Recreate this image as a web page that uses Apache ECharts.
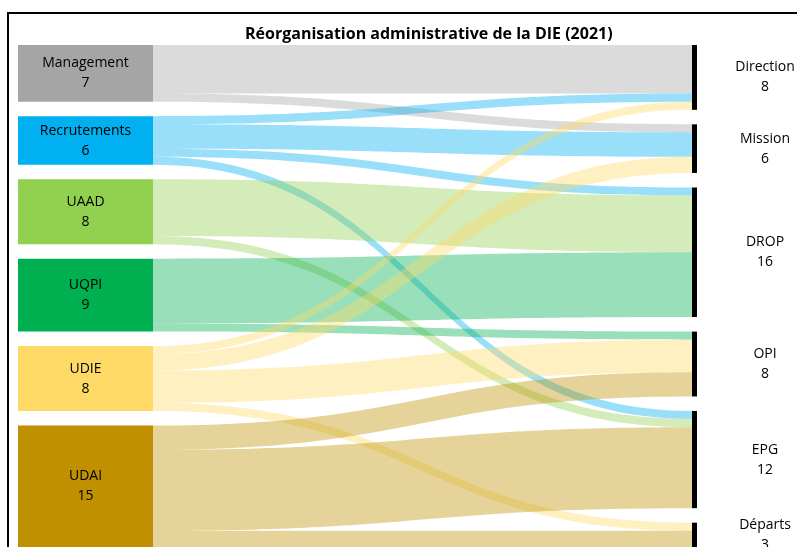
<!DOCTYPE html>
<html>
<head>
<meta charset="utf-8">
<script src="https://cdn.jsdelivr.net/npm/echarts@6/dist/echarts.min.js"></script>
<style>
  html, body { margin: 0; padding: 0; background: #fff; }
  #chart { width: 797px; height: 547px; }
</style>
</head>
<body>
<div id="chart"></div>
<script>
// noeuds de départ (2020) et d'arrivée (2021)
const sources = ['Management', 'Recrutements', 'UAAD', 'UQPI', 'UDIE', 'UDAI'];
const sourceColors = ['#A5A5A5', '#00B0F0', '#92D050', '#00B050', '#FFD966', '#BF9000'];
const targets = ['Direction', 'Mission', 'DROP', 'OPI', 'EPG', 'Départs'];

// flux : de -> vers, effectif
const flowFrom = ['Management', 'Management', 'Recrutements', 'Recrutements', 'Recrutements', 'Recrutements',
    'UAAD', 'UAAD', 'UQPI', 'UQPI', 'UDIE', 'UDIE', 'UDIE', 'UDIE', 'UDAI', 'UDAI', 'UDAI'];
const flowTo = ['Direction', 'Mission', 'Direction', 'Mission', 'DROP', 'EPG',
    'DROP', 'EPG', 'DROP', 'OPI', 'Direction', 'Mission', 'OPI', 'Départs', 'OPI', 'EPG', 'Départs'];
const flowValue = [6, 1, 1, 3, 1, 1, 7, 1, 8, 1, 1, 2, 4, 1, 3, 10, 2];

const font = 'Open Sans';
const myChart = echarts.init(document.getElementById('chart'));

const links = flowFrom.map((s, i) => ({ source: s, target: flowTo[i], value: flowValue[i] }));

// serie "flux" : noeuds fins, liens colorés
const nodesThin = sources.map((name, i) => ({
    name: name,
    itemStyle: { color: sourceColors[i], opacity: 0 },
    label: { show: false }
})).concat(targets.map(name => ({
    name: name,
    itemStyle: { color: '#000' },
    label: {
        show: true,
        position: [73, '50%'],
        align: 'center',
        verticalAlign: 'middle',
        padding: [3, 0, 0, 0]
    }
})));

// serie "boites" : seulement les grands rectangles de gauche
const nodesBox = sources.map((name, i) => ({
    name: name,
    itemStyle: { color: sourceColors[i] },
    label: { show: true, position: 'inside' }
})).concat(targets.map(name => ({
    name: name,
    itemStyle: { opacity: 0 },
    label: { show: false }
})));

const common = {
    type: 'sankey',
    top: 45,
    height: 502,
    nodeGap: 14.5,
    layoutIterations: 0,
    draggable: false,
    emphasis: { disabled: true },
    label: {
        color: '#000',
        fontFamily: font,
        fontSize: 14,
        lineHeight: 20,
        formatter: p => p.name + '\n' + p.value
    },
    itemStyle: { borderWidth: 0 }
};

const option = {
    animation: false,
    title: {
        text: 'Réorganisation administrative de la DIE (2021)',
        left: 240,
        top: 21,
        textStyle: { fontFamily: font, fontSize: 16, fontWeight: 'bold', color: '#000' }
    },
    graphic: [{
        type: 'rect',
        shape: { x: 8, y: 13, width: 820, height: 560 },
        style: { fill: null, stroke: '#000', lineWidth: 2 },
        silent: true
    }],
    series: [
        Object.assign({}, common, {
            left: 148,
            right: 100,
            nodeWidth: 5,
            data: nodesThin,
            links: links,
            lineStyle: { color: 'source', opacity: 0.4, curveness: 0.5 }
        }),
        Object.assign({}, common, {
            left: 18,
            right: 100,
            nodeWidth: 135,
            data: nodesBox,
            links: links,
            lineStyle: { opacity: 0 }
        })
    ]
};

myChart.setOption(option);
</script>
</body>
</html>
